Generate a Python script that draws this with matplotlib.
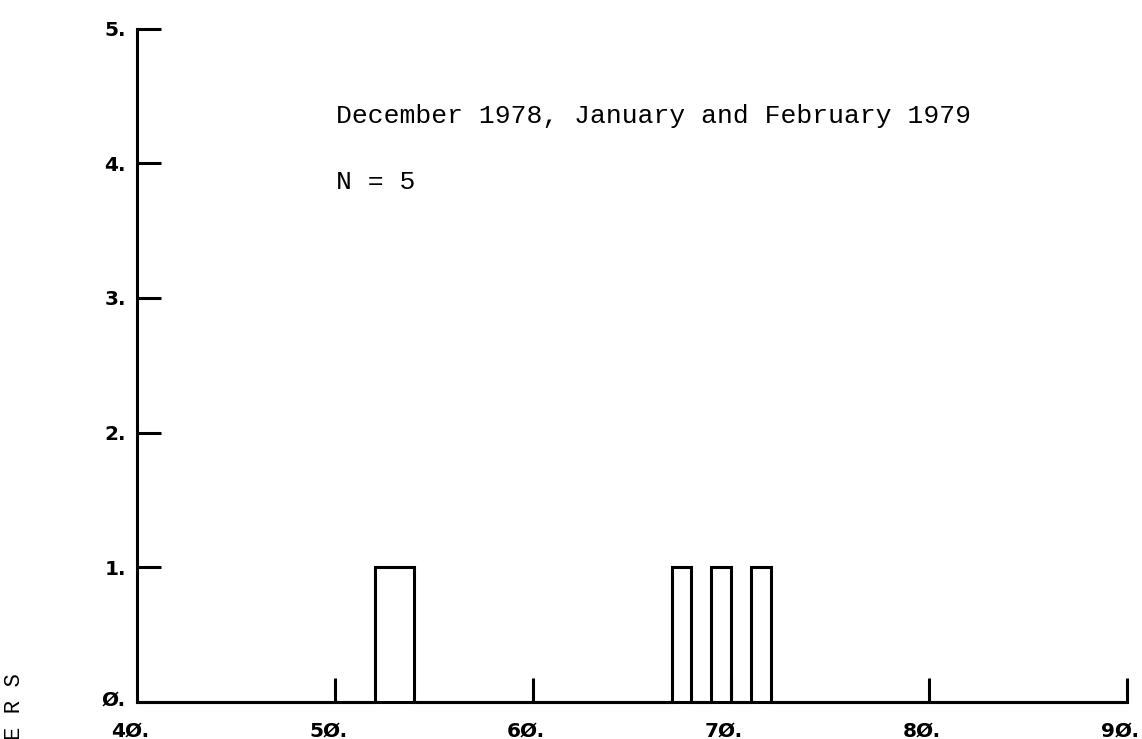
import numpy as np
import matplotlib
matplotlib.use('Agg')
import matplotlib.pyplot as plt
import matplotlib.transforms as mtransforms

# observations (one per winter day-group), binned in steps of 1
observations = [52, 53, 67, 69, 71]
bin_edges = np.arange(40, 91, 1)

x_ticks = [40, 50, 60, 70, 80, 90]
x_tick_labels = ["4Ø.", "5Ø.", "6Ø.", "7Ø.", "8Ø.", "9Ø."]
y_ticks = [0, 1, 2, 3, 4, 5]
y_tick_labels = ["Ø.", "1.", "2.", "3.", "4.", "5."]

title_text = "December 1978, January and February 1979"
n_text = "N = 5"
y_label = "N U M B E R S"

label_size = 14.5

fig = plt.figure(figsize=(11.42, 7.39), dpi=100)
ax = fig.add_axes([0.12, 0.0505, 0.8669, 0.9106])

ax.hist(observations, bins=bin_edges, histtype='step', color='black',
        linewidth=2.2, clip_on=False)

ax.set_xlim(40, 90)
ax.set_ylim(0, 5)

for side in ['top', 'right']:
    ax.spines[side].set_visible(False)
for side in ['left', 'bottom']:
    ax.spines[side].set_linewidth(2.2)
    ax.spines[side].set_clip_on(False)

ax.set_xticks(x_ticks[1:])
ax.set_xticklabels(x_tick_labels[1:])
ax.set_yticks(y_ticks[1:])
ax.set_yticklabels(y_tick_labels[1:])
ax.tick_params(axis='x', direction='in', length=17, width=2.2, pad=14)
ax.tick_params(axis='y', direction='in', length=17, width=2.2, pad=8)
for lab in ax.get_xticklabels() + ax.get_yticklabels():
    lab.set_fontweight('bold')
    lab.set_fontsize(label_size)
    lab.set_fontfamily('DejaVu Sans')

# the 40. and 0. labels sit at the corner, no tick there
ax.text(40, 0, y_tick_labels[0], fontsize=label_size, fontweight='bold', ha='right', va='center',
        transform=ax.transData + mtransforms.ScaledTranslation(-0.115, 0.02, fig.dpi_scale_trans))
ax.text(40, 0, x_tick_labels[0], fontsize=label_size, fontweight='bold', ha='center', va='top',
        transform=ax.transData + mtransforms.ScaledTranslation(-0.07, -0.2, fig.dpi_scale_trans))

# shift x tick labels a little to the left like the plotter output
offset = mtransforms.ScaledTranslation(-0.07, 0, fig.dpi_scale_trans)
for lab in ax.get_xticklabels():
    lab.set_transform(lab.get_transform() + offset)

ax.text(50.05, 4.35, title_text, family='Liberation Mono', fontsize=19, va='center', ha='left')
ax.text(50.05, 3.86, n_text, family='Liberation Mono', fontsize=19, va='center', ha='left')

fig.text(15 / 1142, 66 / 739, y_label, family='Liberation Mono', fontsize=16,
         rotation=90, ha='center', va='top')

fig.savefig('out.png', dpi=100)
plt.close(fig)
